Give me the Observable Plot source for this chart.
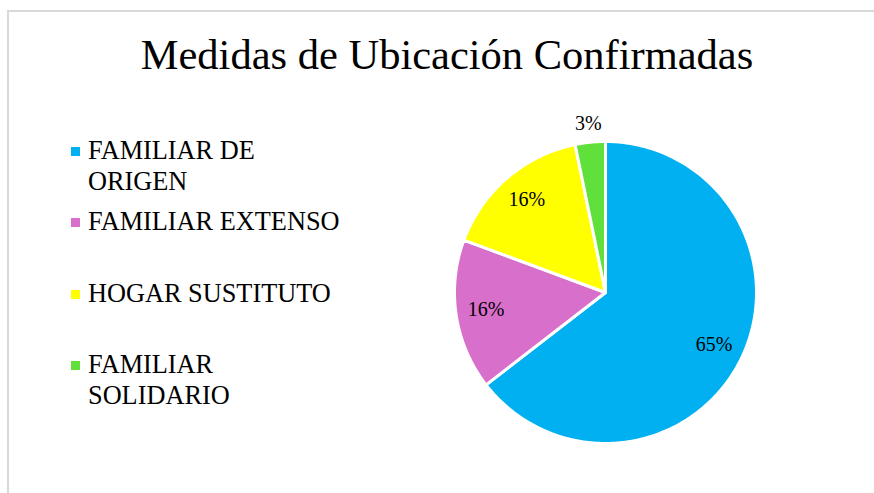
<!DOCTYPE html>
<html>
<head>
<meta charset="utf-8">
<script src="https://cdn.jsdelivr.net/npm/d3@7"></script>
<script src="https://cdn.jsdelivr.net/npm/@observablehq/plot@0.6"></script>
<style>
  html, body { margin: 0; padding: 0; background: #fff; }
  body { width: 874px; height: 493px; position: relative; overflow: hidden; font-family: "Liberation Serif", "Times New Roman", serif; }
  #frame { position: absolute; left: 7px; top: 10px; width: 900px; height: 520px; border-left: 2px solid #d9d9d9; border-top: 2px solid #d9d9d9; box-sizing: border-box; }
  #title { position: absolute; left: 0; width: 894px; top: 34px; text-align: center; font-size: 42.5px; color: #000; white-space: nowrap; line-height: 1; }
  .leg { position: absolute; left: 71px; font-size: 26.3px; line-height: 31px; color: #000; }
  .leg .sw { position: absolute; left: 0; width: 9px; height: 9px; }
  .leg .tx { position: absolute; left: 17px; white-space: nowrap; }
  #pie { position: absolute; left: 425px; top: 112px; }
</style>
</head>
<body>
<div id="frame"></div>
<div id="title">Medidas de Ubicación Confirmadas</div>
<div id="legend"></div>
<div id="pie"></div>
<script>
// Data
const categories = ["FAMILIAR DE ORIGEN", "FAMILIAR EXTENSO", "HOGAR SUSTITUTO", "FAMILIAR SOLIDARIO"];
const legendLines = [["FAMILIAR DE", "ORIGEN"], ["FAMILIAR EXTENSO"], ["HOGAR SUSTITUTO"], ["FAMILIAR", "SOLIDARIO"]];
const values = [40, 10, 10, 2];
const colors = ["#00b0f0", "#d86fcb", "#ffff00", "#60e03a"];
const titleText = "Medidas de Ubicación Confirmadas";

// Legend (HTML)
const legendTops = [143, 214, 286, 357];
const legend = document.getElementById("legend");
legendLines.forEach((lines, i) => {
  const item = document.createElement("div");
  item.className = "leg";
  item.style.top = legendTops[i] + "px";
  const sw = document.createElement("div");
  sw.className = "sw";
  sw.style.background = colors[i];
  sw.style.top = "4px";
  item.appendChild(sw);
  lines.forEach((ln, j) => {
    const t = document.createElement("div");
    t.className = "tx";
    t.style.top = (j * 30.5 - 8) + "px";
    t.textContent = ln;
    item.appendChild(t);
  });
  legend.appendChild(item);
});

// Pie geometry from data
const total = d3.sum(values);
const arcs = d3.pie().sort(null).value(d => d)(values);
const slicePts = [];
const labels = [];
arcs.forEach((a, i) => {
  const cat = categories[i];
  slicePts.push({cat, x: 0, y: 0});
  const steps = Math.max(2, Math.ceil((a.endAngle - a.startAngle) / (Math.PI / 180)));
  for (let k = 0; k <= steps; k++) {
    const t = a.startAngle + (a.endAngle - a.startAngle) * k / steps;
    slicePts.push({cat, x: Math.sin(t), y: Math.cos(t)});
  }
  slicePts.push({cat, x: 0, y: 0});
  const share = values[i] / total;
  const mid = (a.startAngle + a.endAngle) / 2;
  const rr = share < 0.05 ? 1.12 : 0.8;
  labels.push({x: Math.sin(mid) * rr, y: Math.cos(mid) * rr, text: Math.round(share * 100) + "%"});
});

const size = 360, R = 151;
const ext = (size / 2) / R;
const chart = Plot.plot({
  width: size,
  height: size,
  margin: 0,
  x: {domain: [-ext, ext], axis: null},
  y: {domain: [-ext, ext], axis: null},
  color: {domain: categories, range: colors},
  marks: [
    Plot.line(slicePts, {x: "x", y: "y", z: "cat", fill: "cat", stroke: "white", strokeWidth: 3, curve: "linear"}),
    Plot.text(labels, {x: "x", y: "y", text: "text", fontSize: 20, fill: "#000", fontFamily: "Liberation Serif, Times New Roman, serif", dy: -1})
  ]
});
document.getElementById("pie").appendChild(chart);
</script>
</body>
</html>
